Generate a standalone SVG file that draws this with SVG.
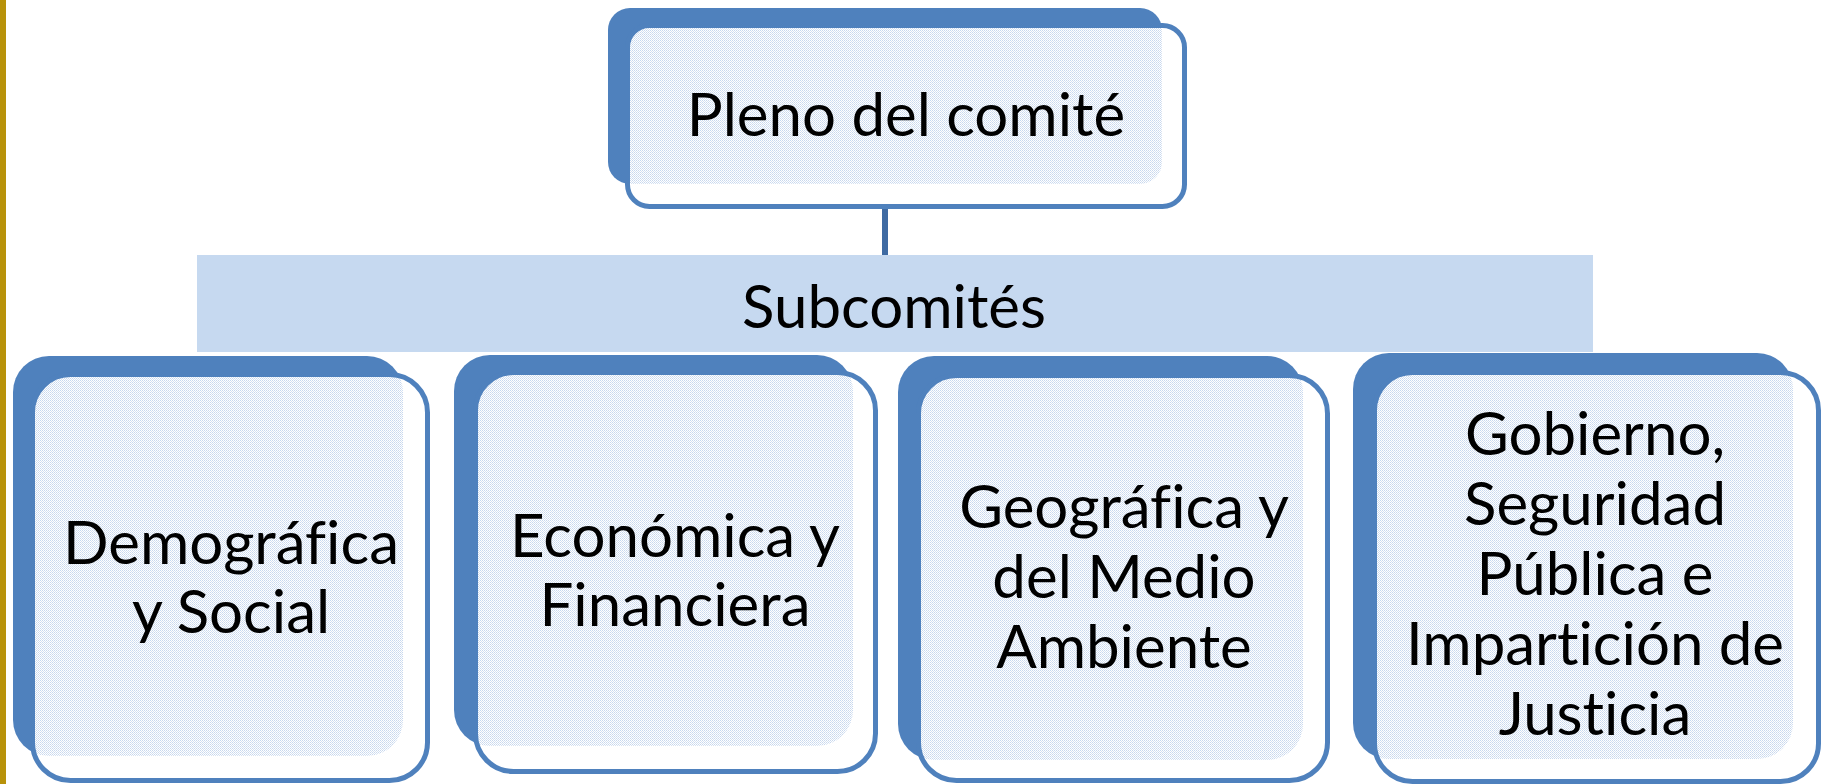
<svg xmlns="http://www.w3.org/2000/svg" width="1822" height="784" viewBox="0 0 1822 784">
<style>
.back{fill:#4F81BD}
.front{fill:#FFFFFF}
.frame{fill:none;stroke:#4F81BD;stroke-width:5}
.pat{fill:url(#dots)}
.bar{fill:#C6D9F0}
.lbl{font-family:Lato,"Liberation Sans",sans-serif;font-size:60px;fill:#000;text-anchor:middle;font-variant-ligatures:none;font-feature-settings:"liga" 0,"clig" 0}
.conn{stroke:#3F6BA3;stroke-width:6;fill:none}
</style>
<defs>
<pattern id="dots" width="2" height="2" patternUnits="userSpaceOnUse">
<rect width="2" height="2" fill="#FFFFFF"/>
<rect width="1" height="1" fill="#C8D8EE"/>
<rect x="1" y="1" width="1" height="1" fill="#D6E2F2"/>
</pattern>
<clipPath id="c0"><rect x="630" y="28" width="552" height="176" rx="19.5"/></clipPath>
<clipPath id="c1"><rect x="35" y="377" width="390" height="401" rx="35.5"/></clipPath>
<clipPath id="c2"><rect x="478" y="375" width="395" height="394" rx="35.5"/></clipPath>
<clipPath id="c3"><rect x="921" y="378" width="404" height="400" rx="35.5"/></clipPath>
<clipPath id="c4"><rect x="1377" y="375" width="439" height="404" rx="35.5"/></clipPath>
</defs>
<rect x="0" y="0" width="1822" height="784" fill="#FFFFFF"/>
<rect x="0" y="0" width="6" height="784" fill="#B8920A"/>

<g id="connectors">
<rect x="882" y="190" width="6" height="16" class="pat"/>
<line x1="885" y1="209" x2="885" y2="255" class="conn"/>
</g>

<g id="pleno">
<rect class="back" x="608" y="8" width="554" height="176" rx="22"/>
<rect class="front" x="627.5" y="25.5" width="557" height="181" rx="22"/>
<rect class="pat" x="608" y="8" width="554" height="176" rx="22" clip-path="url(#c0)"/>
<rect class="frame" x="627.5" y="25.5" width="557" height="181" rx="22"/>
<text class="lbl" x="906" y="136">Pleno del comité</text>
</g>

<g id="subcomites">
<rect class="bar" x="197" y="255" width="1396" height="97"/>
<text class="lbl" x="894" y="328">Subcomités</text>
</g>

<g id="demografica">
<rect class="back" x="13" y="356" width="390" height="400" rx="36"/>
<rect class="front" x="32.5" y="374.5" width="395" height="406" rx="38"/>
<rect class="pat" x="13" y="356" width="390" height="400" rx="36" clip-path="url(#c1)"/>
<rect class="frame" x="32.5" y="374.5" width="395" height="406" rx="38"/>
<text class="lbl" x="231" y="564">Demográfica</text>
<text class="lbl" x="231" y="633">y Social</text>
</g>

<g id="economica">
<rect class="back" x="454" y="355" width="399" height="391" rx="36"/>
<rect class="front" x="475.5" y="372.5" width="400" height="399" rx="38"/>
<rect class="pat" x="454" y="355" width="399" height="391" rx="36" clip-path="url(#c2)"/>
<rect class="frame" x="475.5" y="372.5" width="400" height="399" rx="38"/>
<text class="lbl" x="675" y="557">Económica y</text>
<text class="lbl" x="675" y="626">Financiera</text>
</g>

<g id="geografica">
<rect class="back" x="898" y="356" width="405" height="404" rx="36"/>
<rect class="front" x="918.5" y="375.5" width="409" height="405" rx="38"/>
<rect class="pat" x="898" y="356" width="405" height="404" rx="36" clip-path="url(#c3)"/>
<rect class="frame" x="918.5" y="375.5" width="409" height="405" rx="38"/>
<text class="lbl" x="1124" y="528">Geográfica y</text>
<text class="lbl" x="1124" y="598">del Medio</text>
<text class="lbl" x="1124" y="668">Ambiente</text>
</g>

<g id="gobierno">
<rect class="back" x="1353" y="353" width="440" height="406" rx="36"/>
<rect class="front" x="1374.5" y="372.5" width="444" height="409" rx="38"/>
<rect class="pat" x="1353" y="353" width="440" height="406" rx="36" clip-path="url(#c4)"/>
<rect class="frame" x="1374.5" y="372.5" width="444" height="409" rx="38"/>
<text class="lbl" x="1595" y="455">Gobierno,</text>
<text class="lbl" x="1595" y="525">Seguridad</text>
<text class="lbl" x="1595" y="595">Pública e</text>
<text class="lbl" x="1595" y="665">Impartición de</text>
<text class="lbl" x="1595" y="735">Justicia</text>
</g>
</svg>
